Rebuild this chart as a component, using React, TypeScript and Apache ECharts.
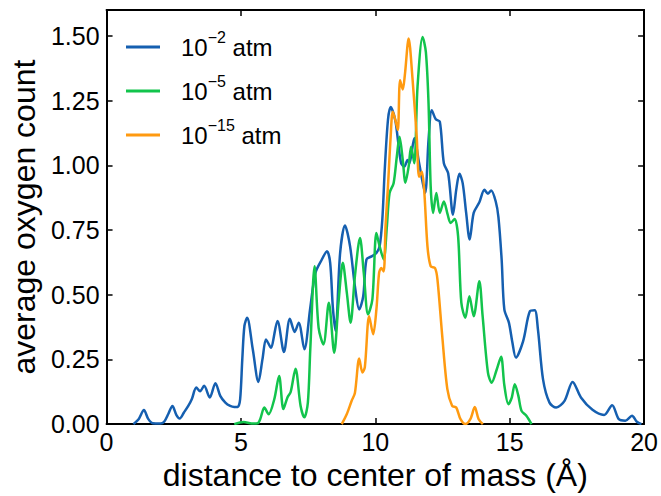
import React, { useEffect, useRef } from "react";
import * as echarts from "echarts";

const FONT = "'Liberation Sans', Arial, sans-serif";

const seriesNames = ["1e-2", "1e-5", "1e-15"];
const seriesExponents = ["−2", "−5", "−15"];
const seriesColors = ["#155fb0", "#12c44c", "#ff9a10"];

const xTicks = { min: 0, max: 20, interval: 5 };
const yTicks = { min: 0, max: 1.6, interval: 0.25 };

const blueData: [number, number][] = [
  [1.0, 0], [1.2, 0.02], [1.39, 0.054], [1.55, 0.02], [1.72, 0.003], [2.0, 0.002], [2.15, 0.01],
  [2.3, 0.04], [2.45, 0.07], [2.6, 0.035], [2.72, 0.022], [2.88, 0.045], [3.04, 0.07], [3.17, 0.096],
  [3.34, 0.141], [3.48, 0.127], [3.63, 0.148], [3.84, 0.103], [4.05, 0.158], [4.23, 0.109],
  [4.42, 0.083], [4.6, 0.07], [4.75, 0.066], [4.88, 0.066], [4.97, 0.096], [5.05, 0.25], [5.13, 0.38],
  [5.23, 0.411], [5.44, 0.289], [5.65, 0.163], [5.8, 0.25], [5.93, 0.327], [6.03, 0.31], [6.11, 0.295],
  [6.36, 0.398], [6.6, 0.279], [6.82, 0.407], [7.0, 0.356], [7.15, 0.392], [7.36, 0.289], [7.58, 0.45],
  [7.77, 0.584], [8.01, 0.636], [8.2, 0.668], [8.32, 0.623], [8.42, 0.45], [8.52, 0.36], [8.69, 0.661],
  [8.87, 0.767], [9.06, 0.687], [9.24, 0.533], [9.4, 0.443], [9.55, 0.494], [9.67, 0.636], [9.86, 0.648],
  [10.04, 0.661], [10.16, 0.687], [10.26, 0.79], [10.35, 0.982], [10.47, 1.175], [10.57, 1.225],
  [10.74, 1.175], [10.84, 1.098], [10.96, 1.008], [11.08, 0.995], [11.2, 1.02], [11.27, 1.008],
  [11.45, 1.104], [11.63, 1.008], [11.85, 0.893], [11.98, 1.098], [12.1, 1.213], [12.25, 1.178],
  [12.4, 1.168], [12.55, 1.008], [12.71, 0.969], [12.89, 0.809], [13.01, 0.905], [13.13, 0.967],
  [13.25, 0.931], [13.38, 0.816], [13.51, 0.713], [13.66, 0.816], [13.87, 0.857], [14.06, 0.905],
  [14.19, 0.89], [14.31, 0.903], [14.48, 0.86], [14.58, 0.8], [14.7, 0.636], [14.8, 0.443],
  [14.97, 0.392], [15.1, 0.315], [15.23, 0.257], [15.5, 0.321], [15.75, 0.436], [15.93, 0.44],
  [16.05, 0.366], [16.24, 0.173], [16.48, 0.083], [16.73, 0.064], [17.04, 0.09], [17.34, 0.163],
  [17.65, 0.103], [18.08, 0.055], [18.51, 0.035], [18.81, 0.073], [19.06, 0.019], [19.3, 0.013],
  [19.55, 0.032], [19.73, 0.009], [19.9, 0],
];

const greenData: [number, number][] = [
  [4.75, 0], [5.1, 0.008], [5.4, 0.002], [5.62, 0.003], [5.72, 0.02], [5.87, 0.064], [6.03, 0.038],
  [6.24, 0.096], [6.42, 0.186], [6.58, 0.058], [6.73, 0.103], [6.85, 0.124], [7.03, 0.214], [7.22, 0.07],
  [7.36, 0.026], [7.49, 0.083], [7.58, 0.289], [7.74, 0.61], [7.89, 0.372], [8.07, 0.308], [8.27, 0.469],
  [8.47, 0.276], [8.63, 0.469], [8.79, 0.623], [8.94, 0.507], [9.08, 0.392], [9.24, 0.571], [9.43, 0.719],
  [9.57, 0.584], [9.73, 0.424], [9.89, 0.482], [10.04, 0.738], [10.16, 0.687], [10.31, 0.636],
  [10.43, 0.764], [10.53, 0.893], [10.68, 0.931], [10.8, 1.034], [10.9, 1.11], [11.02, 1.021],
  [11.12, 0.933], [11.24, 0.995], [11.33, 1.072], [11.45, 1.008], [11.57, 1.303], [11.76, 1.496],
  [11.88, 1.438], [11.98, 1.239], [12.06, 0.918], [12.15, 0.816], [12.27, 0.893], [12.4, 0.816],
  [12.55, 0.86], [12.69, 0.81], [12.8, 0.777], [12.95, 0.792], [13.08, 0.725], [13.2, 0.469],
  [13.35, 0.411], [13.5, 0.494], [13.66, 0.417], [13.87, 0.552], [13.99, 0.42], [14.19, 0.199],
  [14.33, 0.16], [14.52, 0.212], [14.68, 0.26], [14.8, 0.15], [14.95, 0.077], [15.07, 0.1],
  [15.19, 0.154], [15.32, 0.11], [15.44, 0.051], [15.62, 0.032], [15.81, 0],
];

const orangeData: [number, number][] = [
  [8.75, 0], [8.94, 0.039], [9.12, 0.09], [9.24, 0.12], [9.4, 0.253], [9.52, 0.199], [9.61, 0.22],
  [9.77, 0.417], [9.92, 0.347], [10.04, 0.443], [10.14, 0.584], [10.22, 0.603], [10.31, 0.59],
  [10.38, 0.764], [10.47, 0.918], [10.57, 1.11], [10.65, 1.207], [10.78, 1.16], [10.84, 1.136],
  [10.92, 1.329], [11.02, 1.293], [11.1, 1.35], [11.24, 1.49], [11.38, 1.34], [11.54, 1.11],
  [11.63, 0.956], [11.73, 0.975], [11.82, 0.9], [11.94, 0.687], [12.06, 0.61], [12.22, 0.603],
  [12.31, 0.56], [12.49, 0.34], [12.68, 0.135], [12.86, 0.07], [13.01, 0.064], [13.17, 0.019],
  [13.35, 0], [13.54, 0.02], [13.7, 0.066], [13.84, 0.02], [14.0, 0],
];

const seriesData = [blueData, greenData, orangeData];

export default function App() {
  const ref = useRef<HTMLDivElement>(null);
  useEffect(() => {
    if (!ref.current) return;
    const chart = echarts.init(ref.current, undefined, { renderer: "svg" });
    const axisLine = { show: true, onZero: false, lineStyle: { color: "#000", width: 2 } };
    const axisTick = { show: true, inside: true, length: 6, lineStyle: { color: "#000", width: 1.5 } };
    chart.setOption({
      animation: false,
      backgroundColor: "#fff",
      textStyle: { fontFamily: FONT },
      grid: { left: 104, right: 14, top: 10, bottom: 71, containLabel: false },
      legend: {
        orient: "vertical",
        left: 121,
        top: 24,
        itemGap: 14,
        itemWidth: 34,
        itemHeight: 3,
        icon: "rect",
        data: seriesNames,
        formatter: (name: string) => {
          const i = seriesNames.indexOf(name);
          return `{n|10}{s|${seriesExponents[i]}}{n| atm}`;
        },
        textStyle: {
          padding: [0, 0, 0, 16],
          rich: {
            n: { fontSize: 24, fontFamily: FONT, color: "#000", lineHeight: 36, verticalAlign: "middle" },
            s: { fontSize: 16, fontFamily: FONT, color: "#000", lineHeight: 16, verticalAlign: "top" },
          },
        },
      },
      xAxis: [
        {
          type: "value",
          position: "bottom",
          min: xTicks.min,
          max: xTicks.max,
          interval: xTicks.interval,
          axisLine,
          axisTick,
          splitLine: { show: false },
          axisLabel: { fontSize: 25, color: "#000", margin: 5, fontFamily: FONT },
          name: "distance to center of mass (Å)",
          nameLocation: "middle",
          nameGap: 31,
          nameTextStyle: { fontSize: 32, color: "#000", fontFamily: FONT },
        },
        {
          type: "value",
          position: "top",
          min: xTicks.min,
          max: xTicks.max,
          interval: xTicks.interval,
          axisLine,
          axisTick,
          splitLine: { show: false },
          axisLabel: { show: false },
        },
      ],
      yAxis: [
        {
          type: "value",
          position: "left",
          min: yTicks.min,
          max: yTicks.max,
          interval: yTicks.interval,
          axisLine,
          axisTick,
          splitLine: { show: false },
          axisLabel: {
            fontSize: 25,
            color: "#000",
            margin: 7,
            fontFamily: FONT,
            showMaxLabel: false,
            formatter: (v: number) => v.toFixed(2),
          },
          name: "average oxygen count",
          nameLocation: "middle",
          nameGap: 58,
          nameTextStyle: { fontSize: 32, color: "#000", fontFamily: FONT },
        },
        {
          type: "value",
          position: "right",
          min: yTicks.min,
          max: yTicks.max,
          interval: yTicks.interval,
          axisLine,
          axisTick,
          splitLine: { show: false },
          axisLabel: { show: false },
        },
      ],
      series: seriesNames.map((name, i) => ({
        name,
        type: "line",
        xAxisIndex: 0,
        yAxisIndex: 0,
        data: seriesData[i],
        showSymbol: false,
        symbol: "none",
        smooth: 0.3,
        color: seriesColors[i],
        lineStyle: { color: seriesColors[i], width: 2.5 },
        z: 2 + i,
      })),
    });
    return () => chart.dispose();
  }, []);
  return (
    <div
      ref={ref}
      style={{ position: "fixed", left: 0, top: 0, width: 661, height: 496, background: "#fff" }}
    />
  );
}
